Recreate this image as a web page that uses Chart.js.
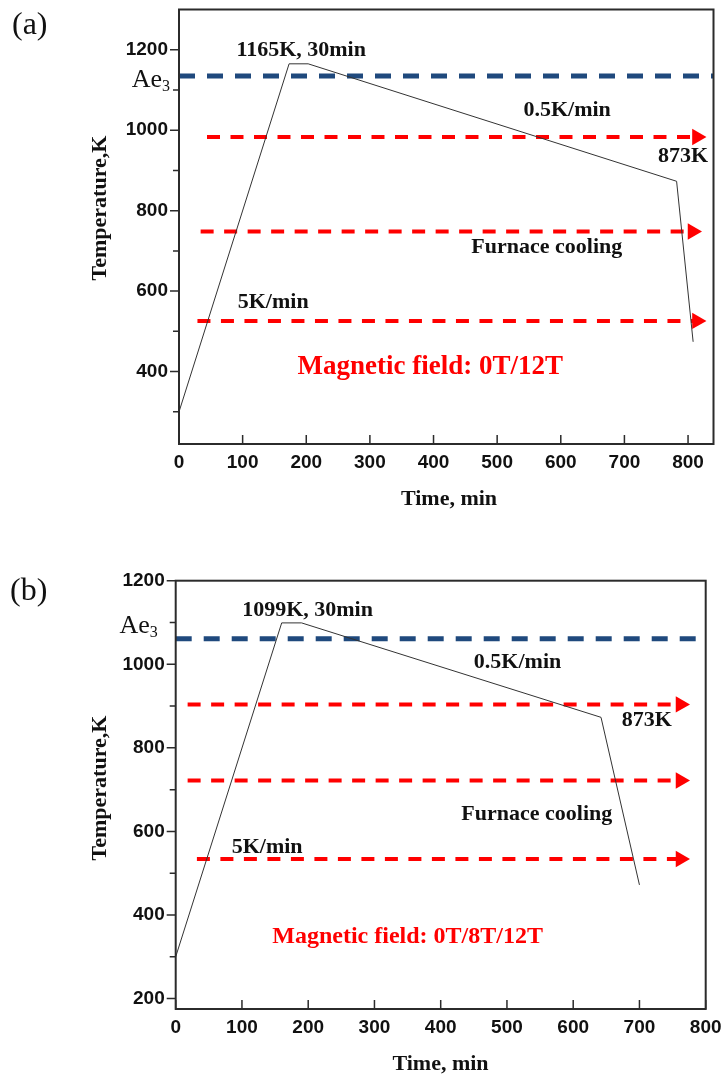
<!DOCTYPE html>
<html>
<head>
<meta charset="utf-8">
<script src="https://cdn.jsdelivr.net/npm/chart.js@4.4.0/dist/chart.umd.min.js"></script>
<style>
  html, body { margin: 0; padding: 0; background: #fff; }
  body { width: 723px; height: 1077px; position: relative; overflow: hidden; }
  .panel { position: absolute; left: 0; width: 723px; }
  #panelA { top: 0; height: 530px; }
  #panelB { top: 540px; height: 537px; }
</style>
</head>
<body>
<div class="panel" id="panelA"><canvas id="chartA"></canvas></div>
<div class="panel" id="panelB"><canvas id="chartB"></canvas></div>
<script>
// panel (a): 0T / 12T
const timeA = [0, 173, 203, 782, 808];
const tempA = [300, 1165, 1165, 873, 474];
const ae3A = 1135;
const ae3SpanA = [0, 840];
const arrowTempA = [983, 748, 526];
const arrowStartA = [44, 34, 29];
const arrowEndA = [814, 807, 814];
const xTicksA = [0, 100, 200, 300, 400, 500, 600, 700, 800];
const yTicksA = [400, 600, 800, 1000, 1200];
const yMinorA = [300, 500, 700, 900, 1100];
const xRangeA = [0, 840];
const yRangeA = [220, 1300];
const fieldA = '0T/12T';

// panel (b): 0T / 8T / 12T
const timeB = [0, 160, 190, 642, 700];
const tempB = [300, 1099, 1099, 873, 472];
const ae3B = 1061;
const ae3SpanB = [0, 786];
const arrowTempB = [904, 722, 534];
const arrowStartB = [18, 18, 32];
const arrowEndB = [762, 762, 762];
const xTicksB = [0, 100, 200, 300, 400, 500, 600, 700, 800];
const yTicksB = [200, 400, 600, 800, 1000, 1200];
const yMinorB = [300, 500, 700, 900, 1100];
const xRangeB = [0, 800];
const yRangeB = [175, 1200];
const fieldB = '0T/8T/12T';

const RED = '#ff0000';
const BLUE = '#1f497d';
const SERIF = '"Liberation Serif", "Times New Roman", serif';
const SANS = '"Liberation Sans", Arial, sans-serif';

// draws frame, tick marks, annotations and axis titles
const extrasPlugin = {
    id: 'extras',
    afterDraw(chart, args, o) {
        const ctx = chart.ctx;
        const a = chart.chartArea;
        const x = chart.scales.x, y = chart.scales.y;
        ctx.save();
        ctx.strokeStyle = '#2b2b2b';
        ctx.lineWidth = 2;
        ctx.strokeRect(a.left, a.top, a.right - a.left, a.bottom - a.top);

        ctx.lineWidth = 1.5;
        ctx.beginPath();
        x.ticks.forEach(t => {
            const px = x.getPixelForValue(t.value);
            ctx.moveTo(px, a.bottom);
            ctx.lineTo(px, a.bottom - 9);
        });
        y.ticks.forEach(t => {
            const py = y.getPixelForValue(t.value);
            ctx.moveTo(a.left - 9, py);
            ctx.lineTo(a.left, py);
        });
        o.minor.forEach(v => {
            const py = y.getPixelForValue(v);
            ctx.moveTo(a.left - 6, py);
            ctx.lineTo(a.left, py);
        });
        ctx.stroke();

        ctx.textBaseline = 'middle';
        o.notes.forEach(n => {
            ctx.font = n.font;
            ctx.fillStyle = n.color || '#111';
            ctx.textAlign = 'center';
            ctx.fillText(n.text, x.getPixelForValue(n.x), y.getPixelForValue(n.y));
        });

        // Ae3 label with subscript, right aligned
        const ax = x.getPixelForValue(o.ae3Label.x);
        const ay = y.getPixelForValue(o.ae3Label.y);
        ctx.fillStyle = '#111';
        ctx.textAlign = 'right';
        ctx.font = '16px ' + SERIF;
        const subW = ctx.measureText('3').width;
        ctx.fillText('3', ax, ay + 6);
        ctx.font = '26px ' + SERIF;
        ctx.fillText('Ae', ax - subW, ay);

        // axis titles
        ctx.font = 'bold 22px ' + SERIF;
        ctx.textAlign = 'center';
        ctx.fillText('Time, min', o.xTitle[0], o.xTitle[1]);
        ctx.save();
        ctx.translate(o.yTitle[0], o.yTitle[1]);
        ctx.rotate(-Math.PI / 2);
        ctx.fillText('Temperature,K', 0, 0);
        ctx.restore();

        // panel tag
        ctx.font = '32px ' + SERIF;
        ctx.textAlign = 'left';
        ctx.fillText(o.tag[0], o.tag[1], o.tag[2]);
        ctx.restore();
    }
};

function buildChart(id, p) {
    const H = document.getElementById(id).parentNode.clientHeight;
    const datasets = [
        {
            data: p.time.map((t, i) => ({ x: t, y: p.temp[i] })),
            borderColor: '#333',
            borderWidth: 1,
            pointRadius: 0
        },
        {
            data: p.ae3Span.map(t => ({ x: t, y: p.ae3 })),
            borderColor: BLUE,
            borderWidth: 5,
            borderDash: [16, 12],
            pointRadius: 0
        }
    ];
    p.arrowTemp.forEach((v, i) => {
        datasets.push({
            data: [{ x: p.arrowStart[i], y: v }, { x: p.arrowEnd[i], y: v }],
            borderColor: RED,
            borderWidth: 4,
            borderDash: [13, 10.5],
            pointRadius: 0
        });
    });
    datasets.push({
        data: p.arrowEnd.map((t, i) => ({ x: t, y: p.arrowTemp[i] })),
        showLine: false,
        pointStyle: 'triangle',
        rotation: 90,
        pointRadius: 9.5,
        backgroundColor: RED,
        borderWidth: 0
    });

    const tickFont = { family: SANS, size: 19, weight: 'bold' };

    return new Chart(document.getElementById(id), {
        type: 'line',
        data: { datasets: datasets },
        options: {
            responsive: true,
            maintainAspectRatio: false,
            animation: false,
            layout: {
                padding: { left: 0, top: p.area.top, right: 723 - p.area.right, bottom: 0 }
            },
            plugins: {
                legend: { display: false },
                tooltip: { enabled: false },
                extras: p.extras
            },
            scales: {
                x: {
                    type: 'linear',
                    min: p.xRange[0],
                    max: p.xRange[1],
                    grid: { display: false, drawTicks: false },
                    border: { display: false },
                    afterBuildTicks: s => { s.ticks = p.xTicks.map(v => ({ value: v })); },
                    afterFit: s => {
                        s.height = H - p.area.bottom;
                        s.paddingLeft = 0;
                        s.paddingRight = 0;
                    },
                    ticks: {
                        padding: 7,
                        color: '#111',
                        maxRotation: 0,
                        font: tickFont,
                        callback: v => String(v)
                    }
                },
                y: {
                    type: 'linear',
                    min: p.yRange[0],
                    max: p.yRange[1],
                    grid: { display: false, drawTicks: false },
                    border: { display: false },
                    afterBuildTicks: s => { s.ticks = p.yTicks.map(v => ({ value: v })); },
                    afterFit: s => {
                        s.width = p.area.left;
                        s.paddingTop = 0;
                        s.paddingBottom = 0;
                    },
                    ticks: {
                        padding: 11,
                        color: '#111',
                        font: tickFont,
                        callback: v => String(v)
                    }
                }
            }
        },
        plugins: [extrasPlugin]
    });
}

const noteFont = 'bold 22px ' + SERIF;

buildChart('chartA', {
    time: timeA, temp: tempA, ae3: ae3A, ae3Span: ae3SpanA,
    arrowTemp: arrowTempA, arrowStart: arrowStartA, arrowEnd: arrowEndA,
    xTicks: xTicksA, yTicks: yTicksA, xRange: xRangeA, yRange: yRangeA,
    area: { left: 179, right: 714, top: 7, bottom: 444 },
    extras: {
        minor: yMinorA,
        ae3Label: { x: -14, y: 1124 },
        xTitle: [449, 499],
        yTitle: [100, 208],
        tag: ['(a)', 12, 26],
        notes: [
            { text: tempA[1] + 'K, ' + (timeA[2] - timeA[1]) + 'min', x: 192, y: 1199, font: noteFont },
            { text: '0.5K/min', x: 610, y: 1050, font: noteFont },
            { text: tempA[3] + 'K', x: 792, y: 934, font: noteFont },
            { text: 'Furnace cooling', x: 578, y: 710, font: noteFont },
            { text: '5K/min', x: 148, y: 571, font: noteFont },
            { text: 'Magnetic field: ' + fieldA, x: 395, y: 411, font: 'bold 27px ' + SERIF, color: RED }
        ]
    }
});

buildChart('chartB', {
    time: timeB, temp: tempB, ae3: ae3B, ae3Span: ae3SpanB,
    arrowTemp: arrowTempB, arrowStart: arrowStartB, arrowEnd: arrowEndB,
    xTicks: xTicksB, yTicks: yTicksB, xRange: xRangeB, yRange: yRangeB,
    area: { left: 175.7, right: 705.7, top: 40.7, bottom: 469 },
    extras: {
        minor: yMinorB,
        ae3Label: { x: -27, y: 1090 },
        xTitle: [440.5, 524],
        yTitle: [100, 248],
        tag: ['(b)', 10, 52],
        notes: [
            { text: tempB[1] + 'K, ' + (timeB[2] - timeB[1]) + 'min', x: 199, y: 1130, font: noteFont },
            { text: '0.5K/min', x: 516, y: 1004, font: noteFont },
            { text: tempB[3] + 'K', x: 711, y: 867, font: noteFont },
            { text: 'Furnace cooling', x: 545, y: 641, font: noteFont },
            { text: '5K/min', x: 138, y: 562, font: noteFont },
            { text: 'Magnetic field: ' + fieldB, x: 350, y: 348, font: 'bold 24px ' + SERIF, color: RED }
        ]
    }
});
</script>
</body>
</html>
